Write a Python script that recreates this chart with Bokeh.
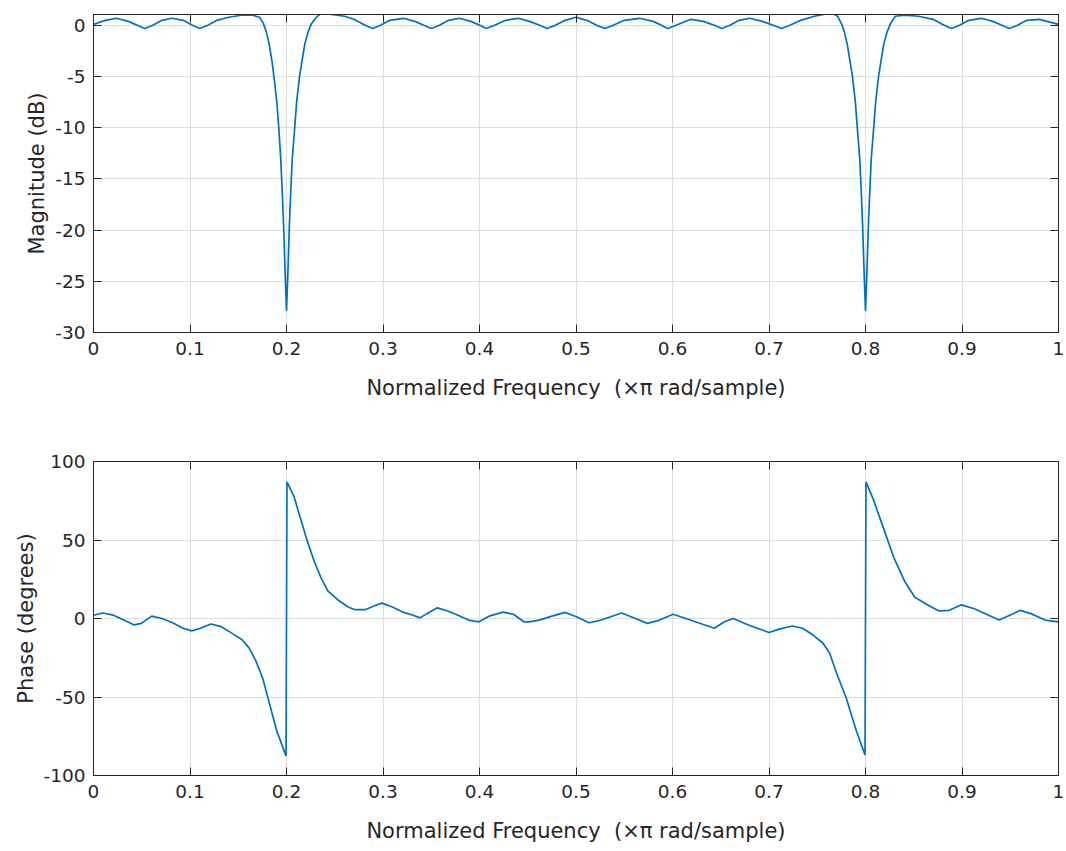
from bokeh.plotting import figure
from bokeh.layouts import column
from bokeh.models import Range1d, FixedTicker, LinearAxis
from bokeh.embed import file_html
from bokeh.resources import INLINE

# ---- data (normalized frequency, x pi rad/sample) ----
freq_mag = [0.000, 0.012, 0.024, 0.036, 0.046, 0.053, 0.061, 0.071, 0.081, 0.093,
            0.103, 0.110, 0.118, 0.128, 0.140, 0.153, 0.165, 0.172, 0.176, 0.179,
            0.182, 0.185, 0.187, 0.190, 0.192, 0.194, 0.1955, 0.197, 0.1985, 0.2000,
            0.2015, 0.2030, 0.2045, 0.2060, 0.2085, 0.2105, 0.2135, 0.2160, 0.2190, 0.2225,
            0.2260, 0.2310, 0.2370, 0.2450,
            0.2600, 0.2700, 0.2800, 0.2890, 0.2970, 0.3070, 0.3210, 0.3330, 0.3430, 0.3500,
            0.3580, 0.3680, 0.3790, 0.3910, 0.4010, 0.4070, 0.4150, 0.4270, 0.4400, 0.4520,
            0.4630, 0.4700, 0.4780, 0.4890, 0.5000, 0.5110, 0.5220, 0.5300, 0.5380, 0.5500,
            0.5660, 0.5800, 0.5890, 0.5950, 0.6030, 0.6190, 0.6320, 0.6440, 0.6510, 0.6590,
            0.6690, 0.6800, 0.6930, 0.7050, 0.7130, 0.7210, 0.7330, 0.7470, 0.7580, 0.7640,
            0.7710, 0.7750, 0.7780, 0.7810, 0.7840, 0.7865, 0.7895, 0.7915, 0.7940, 0.7955,
            0.7970, 0.7985, 0.8000, 0.8015, 0.8030, 0.8045, 0.8060, 0.8085, 0.8105, 0.8135,
            0.8160, 0.8190, 0.8225, 0.8260, 0.8310, 0.8400, 0.8550,
            0.8700, 0.8800, 0.8890, 0.8970, 0.9070, 0.9200, 0.9320, 0.9420, 0.9490, 0.9570,
            0.9670, 0.9800, 0.9920, 1.0000]
mag_db = [0.1, 0.5, 0.7, 0.4, 0.0, -0.3, 0.0, 0.5, 0.7, 0.5,
          0.0, -0.3, 0.0, 0.5, 0.8, 1.0, 1.0, 0.8, 0.2, -0.6,
          -1.8, -3.5, -5.0, -7.5, -10.0, -13.0, -16.0, -19.5, -24.0, -27.9,
          -24.0, -19.5, -16.0, -13.0, -10.0, -7.5, -5.0, -3.5, -1.8, -0.6,
          0.2, 0.8, 1.3, 1.1,
          0.9, 0.6, 0.1, -0.3, 0.0, 0.5, 0.7, 0.4, 0.0, -0.3,
          0.0, 0.5, 0.7, 0.4, 0.0, -0.3, 0.0, 0.5, 0.7, 0.4,
          0.0, -0.3, 0.0, 0.5, 0.8, 0.5, 0.0, -0.3, 0.0, 0.5,
          0.7, 0.4, 0.0, -0.3, 0.0, 0.6, 0.4, 0.0, -0.3, 0.0,
          0.5, 0.7, 0.4, 0.0, -0.3, 0.0, 0.5, 0.9, 1.1, 1.3,
          0.9, 0.2, -0.6, -1.8, -3.5, -5.0, -7.5, -10.0, -13.0, -16.0,
          -19.5, -24.0, -27.9, -24.0, -19.5, -16.0, -13.0, -10.0, -7.5, -5.0,
          -3.5, -1.8, -0.6, 0.2, 0.9, 1.0, 0.9,
          0.6, 0.1, -0.3, 0.0, 0.5, 0.7, 0.4, 0.0, -0.3, 0.0,
          0.5, 0.6, 0.3, 0.1]

freq_phase = [0.0000, 0.0097, 0.0206, 0.0314, 0.0422, 0.0495, 0.0603, 0.0711, 0.0819, 0.0928,
              0.1018, 0.1108, 0.1216, 0.1324, 0.1432, 0.1540, 0.1612, 0.1683, 0.1755, 0.1827,
              0.1899, 0.1995, 0.2005, 0.2077, 0.2147, 0.2218, 0.2288, 0.2358, 0.2428, 0.2533,
              0.2639, 0.2709, 0.2814, 0.2919, 0.2989, 0.3097, 0.3204, 0.3312, 0.3384, 0.3455,
              0.3563, 0.3670, 0.3778, 0.3885, 0.3993, 0.4100, 0.4244, 0.4351, 0.4459, 0.4512,
              0.4619, 0.4726, 0.4886, 0.5011, 0.5135, 0.5260, 0.5473, 0.5616, 0.5740, 0.5865,
              0.6007, 0.6184, 0.6433, 0.6539, 0.6628, 0.6787, 0.7000, 0.7105, 0.7244, 0.7348,
              0.7453, 0.7557, 0.7627, 0.7697, 0.7801, 0.7906, 0.7995, 0.8005, 0.8082, 0.8189,
              0.8296, 0.8404, 0.8511, 0.8654, 0.8761, 0.8868, 0.8993, 0.9128, 0.9275, 0.9385,
              0.9495, 0.9604, 0.9714, 0.9861, 1.0000]
phase_deg = [2.1, 3.5, 2.1, -1.0, -4.1, -3.1, 1.5, 0.0, -2.7, -6.2,
             -7.9, -6.2, -3.5, -5.2, -9.3, -13.5, -18.7, -27.0, -38.4, -55.0,
             -71.6, -87.5, 87.0, 77.8, 63.3, 48.8, 36.3, 25.9, 17.6, 11.8,
             7.3, 5.6, 5.6, 8.3, 9.8, 7.3, 4.1, 2.1, 0.4, 3.1,
             6.8, 4.8, 2.1, -1.0, -2.1, 1.5, 4.1, 2.7, -2.1, -2.1,
             -1.0, 1.0, 3.9, 1.0, -2.7, -1.0, 3.5, 0.0, -3.1, -1.0,
             2.7, -1.0, -6.2, -2.1, 0.0, -4.1, -8.9, -6.8, -4.8, -6.2,
             -10.4, -15.6, -21.8, -34.2, -50.8, -71.6, -87.0, 87.0, 75.7, 57.1,
             38.4, 23.9, 13.5, 8.3, 4.8, 5.2, 8.7, 6.2, 2.1, -1.0,
             2.1, 5.2, 3.1, -1.0, -2.1]

x_ticks = [0, 0.1, 0.2, 0.3, 0.4, 0.5, 0.6, 0.7, 0.8, 0.9, 1]
x_tick_labels = ["0", "0.1", "0.2", "0.3", "0.4", "0.5", "0.6", "0.7", "0.8", "0.9", "1"]
mag_ticks = [-30, -25, -20, -15, -10, -5, 0]
mag_tick_labels = ["-30", "-25", "-20", "-15", "-10", "-5", "0"]
phase_ticks = [-100, -50, 0, 50, 100]
phase_tick_labels = ["-100", "-50", "0", "50", "100"]

x_label = "Normalized Frequency\u00a0 (\u00d7\u03c0 rad/sample)"
mag_label = "Magnitude (dB)"
phase_label = "Phase (degrees)"

FONT = "DejaVu Sans"
AX = "#262626"
LINE = "#0072BD"
GRID = "#dedede"


def style_axis(ax, ticks, labels, show_labels=True):
    ax.ticker = FixedTicker(ticks=ticks)
    ax.major_tick_in = 8
    ax.major_tick_out = 0
    ax.minor_tick_in = 0
    ax.minor_tick_out = 0
    ax.axis_line_color = AX
    ax.major_tick_line_color = AX
    if show_labels:
        ax.major_label_overrides = dict(zip(ticks, labels))
        ax.major_label_text_font = FONT
        ax.major_label_text_font_size = "18.5px"
        ax.major_label_text_color = AX
    else:
        ax.major_label_text_font_size = "0px"
        ax.major_label_text_color = None
        ax.major_label_standoff = 0


def make(height, top, bottom, yr, yticks, ylabels, ylabel, xs, ys, ylab_standoff, xlab_standoff):
    p = figure(width=1066, height=height, x_range=Range1d(0, 1), y_range=Range1d(*yr),
               output_backend="svg", toolbar_location=None,
               min_border_left=93, min_border_right=8, min_border_top=top,
               min_border_bottom=bottom)
    p.background_fill_color = "white"
    p.border_fill_color = "white"
    p.outline_line_color = AX
    p.outline_line_width = 1

    p.xgrid.ticker = FixedTicker(ticks=x_ticks)
    p.ygrid.ticker = FixedTicker(ticks=yticks)
    p.xgrid.grid_line_color = GRID
    p.ygrid.grid_line_color = GRID

    xa = p.xaxis[0]
    style_axis(xa, x_ticks, x_tick_labels)
    xa.major_label_standoff = 9
    xa.axis_label = x_label
    xa.axis_label_text_font = FONT
    xa.axis_label_text_font_size = "21px"
    xa.axis_label_text_font_style = "normal"
    xa.axis_label_text_color = AX
    xa.axis_label_standoff = xlab_standoff

    ya = p.yaxis[0]
    style_axis(ya, yticks, ylabels)
    ya.major_label_standoff = 8
    ya.axis_label = ylabel
    ya.axis_label_text_font = FONT
    ya.axis_label_text_font_size = "21px"
    ya.axis_label_text_font_style = "normal"
    ya.axis_label_text_color = AX
    ya.axis_label_standoff = ylab_standoff

    top_ax = LinearAxis()
    style_axis(top_ax, x_ticks, x_tick_labels, show_labels=False)
    p.add_layout(top_ax, "above")
    right_ax = LinearAxis()
    style_axis(right_ax, yticks, ylabels, show_labels=False)
    p.add_layout(right_ax, "right")

    p.line(xs, ys, line_color=LINE, line_width=1.7)
    return p


p1 = make(430, 14, 98, (-30, 1.07), mag_ticks, mag_tick_labels, mag_label,
          freq_mag, mag_db, 3, 18)
p2 = make(421, 31, 76, (-100, 100), phase_ticks, phase_tick_labels, phase_label,
          freq_phase, phase_deg, 3, 18)

layout = column(p1, p2)
open("out.html", "w").write(file_html(layout, INLINE))
